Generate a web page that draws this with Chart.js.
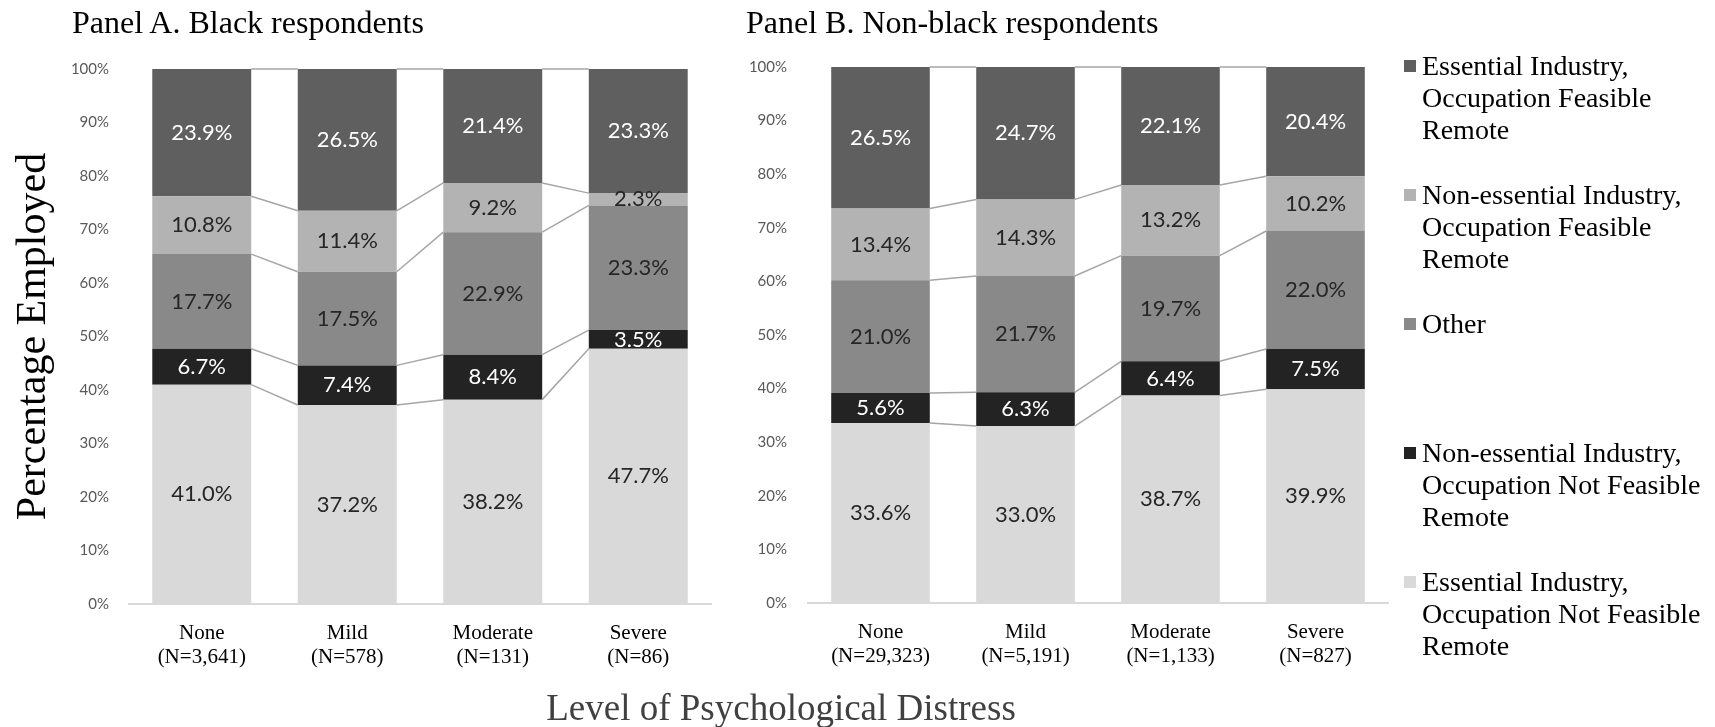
<!DOCTYPE html>
<html>
<head>
<meta charset="utf-8">
<title>Employment by Level of Psychological Distress</title>
<script src="https://cdn.jsdelivr.net/npm/chart.js@4.4.0/dist/chart.umd.min.js"></script>
<style>
  body { margin: 0; background: #fff; }
  #page { position: relative; width: 1715px; height: 727px; overflow: hidden; font-family: "Liberation Serif", "Times New Roman", serif; }
  .panel { position: absolute; top: 0; height: 727px; }
  #panel-a { left: 0; width: 730px; }
  #panel-b { left: 730px; width: 680px; }
  .panel-title { position: absolute; top: 3px; font-size: 32px; line-height: 38px; white-space: nowrap; color: #000; }
  #legend { position: absolute; left: 1404px; top: 50px; }
  .legend-item { position: relative; height: 129px; padding-left: 18px; font-size: 28px; line-height: 32px; white-space: nowrap; color: #000; }
  .legend-box { position: absolute; left: 0; top: 10px; width: 12px; height: 12px; }
  #x-title { position: absolute; left: 0; width: 1562px; top: 686px; text-align: center; font-size: 37px; line-height: 44px; color: #404040; }
</style>
</head>
<body>
<div id="page">
  <div class="panel" id="panel-a"><canvas id="chart-a"></canvas></div>
  <div class="panel" id="panel-b"><canvas id="chart-b"></canvas></div>
  <div class="panel-title" style="left:72px">Panel A. Black respondents</div>
  <div class="panel-title" style="left:746px">Panel B. Non-black respondents</div>
  <div id="legend"></div>
  <div id="x-title">Level of Psychological Distress</div>
</div>
<script>
// Categories and tick labels
var levels = ['None', 'Mild', 'Moderate', 'Severe'];
var blackCounts = ['(N=3,641)', '(N=578)', '(N=131)', '(N=86)'];
var nonBlackCounts = ['(N=29,323)', '(N=5,191)', '(N=1,133)', '(N=827)'];
var yTickValues = [0, 10, 20, 30, 40, 50, 60, 70, 80, 90, 100];

// Series, bottom of the stack first
var seriesNames = [
  'Essential Industry, Occupation Not Feasible Remote',
  'Non-essential Industry, Occupation Not Feasible Remote',
  'Other',
  'Non-essential Industry, Occupation Feasible Remote',
  'Essential Industry, Occupation Feasible Remote'
];
var seriesColors = ['#d9d9d9', '#232323', '#898989', '#b3b3b3', '#5f5f5f'];
var labelColors = ['#262626', '#ffffff', '#262626', '#262626', '#ffffff'];

// Panel A. Black respondents (percent)
var blackEssentialNotFeasible = [41.0, 37.2, 38.2, 47.7];
var blackNonEssentialNotFeasible = [6.7, 7.4, 8.4, 3.5];
var blackOther = [17.7, 17.5, 22.9, 23.3];
var blackNonEssentialFeasible = [10.8, 11.4, 9.2, 2.3];
var blackEssentialFeasible = [23.9, 26.5, 21.4, 23.3];

// Panel B. Non-black respondents (percent)
var nonBlackEssentialNotFeasible = [33.6, 33.0, 38.7, 39.9];
var nonBlackNonEssentialNotFeasible = [5.6, 6.3, 6.4, 7.5];
var nonBlackOther = [21.0, 21.7, 19.7, 22.0];
var nonBlackNonEssentialFeasible = [13.4, 14.3, 13.2, 10.2];
var nonBlackEssentialFeasible = [26.5, 24.7, 22.1, 20.4];

// Legend lines as they wrap in the figure (top of the legend first)
var legendLines = [
  ['Essential Industry,', 'Occupation Feasible', 'Remote'],
  ['Non-essential Industry,', 'Occupation Feasible', 'Remote'],
  ['Other'],
  ['Non-essential Industry,', 'Occupation Not Feasible', 'Remote'],
  ['Essential Industry,', 'Occupation Not Feasible', 'Remote']
];

// Grey lines joining the top of each segment to the next bar
var seriesLinesPlugin = {
  id: 'seriesLines',
  afterDatasetsDraw: function(chart) {
    var ctx = chart.ctx;
    var top = chart.chartArea.top;
    ctx.save();
    ctx.strokeStyle = '#a6a6a6';
    ctx.lineWidth = 1.5;
    for (var i = 0; i < chart.data.datasets.length; i++) {
      var bars = chart.getDatasetMeta(i).data;
      for (var j = 0; j < bars.length - 1; j++) {
        var a = bars[j];
        var b = bars[j + 1];
        ctx.beginPath();
        ctx.moveTo(a.x + a.width / 2, Math.max(a.y, top));
        ctx.lineTo(b.x - b.width / 2, Math.max(b.y, top));
        ctx.stroke();
      }
    }
    ctx.restore();
  }
};

// Percent labels in the middle of each segment
var segmentLabelsPlugin = {
  id: 'segmentLabels',
  afterDatasetsDraw: function(chart) {
    var ctx = chart.ctx;
    var top = chart.chartArea.top;
    ctx.save();
    ctx.font = '22px Lato, "Open Sans", sans-serif';
    ctx.textAlign = 'center';
    ctx.textBaseline = 'middle';
    for (var i = 0; i < chart.data.datasets.length; i++) {
      var ds = chart.data.datasets[i];
      ctx.fillStyle = labelColors[i];
      var bars = chart.getDatasetMeta(i).data;
      for (var j = 0; j < bars.length; j++) {
        var bar = bars[j];
        var y = (Math.max(bar.y, top) + bar.base) / 2;
        ctx.fillText(ds.data[j].toFixed(1) + '%', bar.x, y);
      }
    }
    ctx.restore();
  }
};

function makeDatasets(series) {
  var datasets = [];
  for (var i = 0; i < series.length; i++) {
    datasets.push({
      label: seriesNames[i],
      data: series[i],
      backgroundColor: seriesColors[i],
      borderWidth: 0,
      barPercentage: 0.68,
      categoryPercentage: 1
    });
  }
  return datasets;
}

function makeChart(canvasId, counts, series, opts) {
  var labels = [];
  for (var i = 0; i < levels.length; i++) {
    labels.push([levels[i], counts[i]]);
  }
  return new Chart(document.getElementById(canvasId), {
    type: 'bar',
    data: { labels: labels, datasets: makeDatasets(series) },
    options: {
      responsive: true,
      maintainAspectRatio: false,
      animation: false,
      events: [],
      layout: { padding: { top: opts.top, right: opts.right, bottom: 0, left: 0 } },
      plugins: { legend: { display: false }, tooltip: { enabled: false } },
      scales: {
        x: {
          stacked: true,
          grid: { display: false, drawTicks: false },
          border: { display: true, color: '#d9d9d9', width: 2 },
          ticks: {
            color: '#000',
            font: { family: '"Liberation Serif", "Times New Roman", serif', size: 21, lineHeight: 1.15 },
            padding: 17,
            maxRotation: 0,
            autoSkip: false
          },
          afterFit: function(scale) { scale.height = opts.xHeight; }
        },
        y: {
          stacked: true,
          min: 0,
          max: 100,
          grid: { display: false, drawTicks: false },
          border: { display: false },
          ticks: {
            color: '#595959',
            font: { family: 'Lato, "Open Sans", sans-serif', size: 15 },
            padding: opts.tickPad,
            callback: function(v) { return v + '%'; }
          },
          afterBuildTicks: function(scale) {
            scale.ticks = yTickValues.map(function(v) { return { value: v }; });
          },
          title: {
            display: opts.yTitle,
            text: 'Percentage Employed',
            color: '#000',
            font: { family: '"Liberation Serif", "Times New Roman", serif', size: 42 },
            padding: { top: 9, bottom: 0 }
          },
          afterFit: function(scale) { scale.width = opts.yWidth; }
        }
      }
    },
    plugins: [seriesLinesPlugin, segmentLabelsPlugin]
  });
}

// Legend built from the series colours
function buildLegend() {
  var legend = document.getElementById('legend');
  for (var i = 0; i < legendLines.length; i++) {
    var colorIndex = seriesColors.length - 1 - i;
    var item = document.createElement('div');
    item.className = 'legend-item';
    item.innerHTML = '<span class="legend-box" style="background:' + seriesColors[colorIndex] + '"></span>' + legendLines[i].join('<br>');
    legend.appendChild(item);
  }
}

buildLegend();

makeChart('chart-a', blackCounts,
  [blackEssentialNotFeasible, blackNonEssentialNotFeasible, blackOther, blackNonEssentialFeasible, blackEssentialFeasible],
  { top: 69, right: 19, xHeight: 123, yWidth: 129, tickPad: 20, yTitle: true });

makeChart('chart-b', nonBlackCounts,
  [nonBlackEssentialNotFeasible, nonBlackNonEssentialNotFeasible, nonBlackOther, nonBlackNonEssentialFeasible, nonBlackEssentialFeasible],
  { top: 67, right: 22, xHeight: 124, yWidth: 78, tickPad: 21, yTitle: false });
</script>
</body>
</html>
